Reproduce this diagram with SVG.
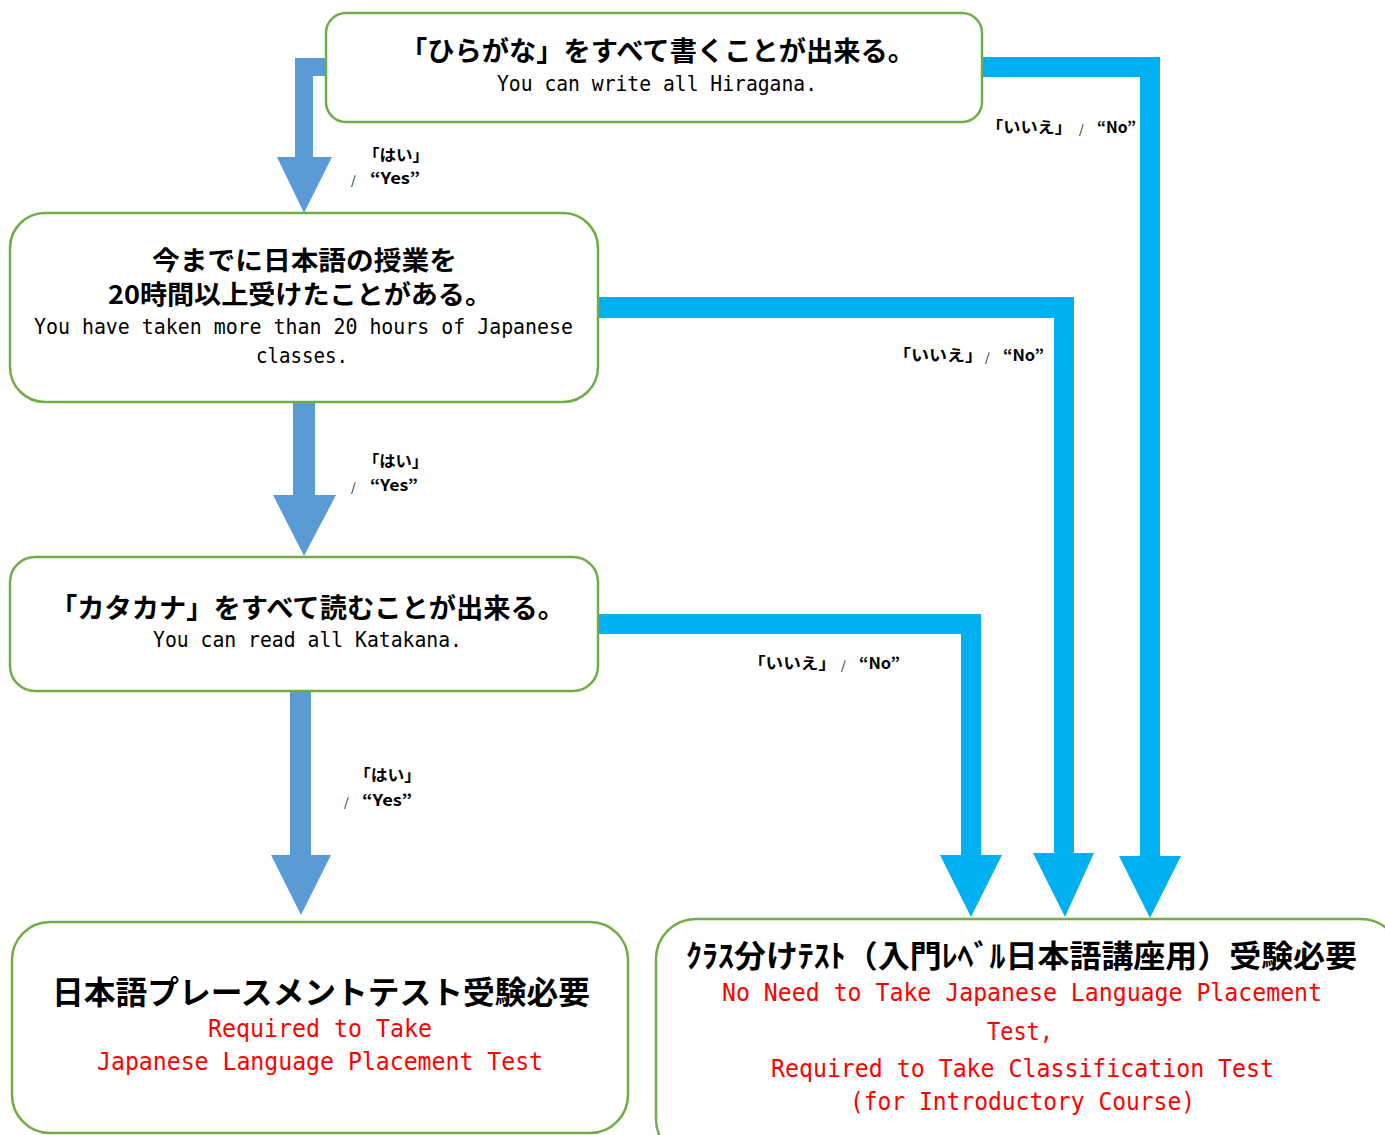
<svg xmlns="http://www.w3.org/2000/svg" width="1385" height="1135" viewBox="0 0 1385 1135">
<style>
.box{fill:#fff;stroke:#70AD47;stroke-width:2.5}
.yes{fill:#5B9BD5}
.no{fill:#00B0F0}
.jp{font-family:"Noto Sans CJK JP","Noto Sans",sans-serif;font-weight:bold;fill:#000}
.en{font-family:"DejaVu Sans Mono","Liberation Mono",monospace;fill:#000}
.red{font-family:"DejaVu Sans Mono","Liberation Mono",monospace;fill:#FF0000}
.lbl{font-family:"Noto Sans CJK JP","Noto Sans",sans-serif;font-weight:bold;font-size:16px;fill:#000}
.sl{font-family:"Noto Sans CJK JP","Noto Sans",sans-serif;font-size:12px;fill:#000}
</style>
<rect width="1385" height="1135" fill="#fff"/>
<g id="connectors">
  <polygon class="yes" points="326,58 295,58 295,157 277,157 304,213 332,157 313,157 313,76 326,76"/>
  <polygon class="yes" points="293,402 293,495 273,495 304,556 336,495 315,495 315,402"/>
  <polygon class="yes" points="290,691 290,855 271,855 301,915 331,855 311,855 311,691"/>
  <polygon class="no" points="982,57 1160,57 1160,856 1181,856 1150,918 1119,856 1140,856 1140,77 982,77"/>
  <polygon class="no" points="598,297 1074,297 1074,853 1094,853 1065,917 1033,853 1054,853 1054,318 598,318"/>
  <polygon class="no" points="598,614 981,614 981,855 1002,855 971,917 940,855 961,855 961,634 598,634"/>
  <g id="label-yes1">
    <text class="lbl" x="363" y="161" textLength="66" lengthAdjust="spacingAndGlyphs">「はい」</text>
    <text class="sl" x="351" y="185">/</text>
    <text class="lbl" x="370" y="184" textLength="50" lengthAdjust="spacingAndGlyphs">“Yes”</text>
  </g>
  <g id="label-yes2">
    <text class="lbl" x="363" y="467" textLength="65" lengthAdjust="spacingAndGlyphs">「はい」</text>
    <text class="sl" x="351" y="492">/</text>
    <text class="lbl" x="370" y="491" textLength="48" lengthAdjust="spacingAndGlyphs">“Yes”</text>
  </g>
  <g id="label-yes3">
    <text class="lbl" x="354" y="781" textLength="67" lengthAdjust="spacingAndGlyphs">「はい」</text>
    <text class="sl" x="344" y="807">/</text>
    <text class="lbl" x="362" y="806" textLength="50" lengthAdjust="spacingAndGlyphs">“Yes”</text>
  </g>
  <g id="label-no1">
    <text class="lbl" x="986" y="133" textLength="86" lengthAdjust="spacingAndGlyphs">「いいえ」</text>
    <text class="sl" x="1079" y="134">/</text>
    <text class="lbl" x="1097" y="133" textLength="39" lengthAdjust="spacingAndGlyphs">“No”</text>
  </g>
  <g id="label-no2">
    <text class="lbl" x="893" y="361" textLength="90" lengthAdjust="spacingAndGlyphs">「いいえ」</text>
    <text class="sl" x="985" y="362">/</text>
    <text class="lbl" x="1003" y="361" textLength="41" lengthAdjust="spacingAndGlyphs">“No”</text>
  </g>
  <g id="label-no3">
    <text class="lbl" x="748" y="669" textLength="88" lengthAdjust="spacingAndGlyphs">「いいえ」</text>
    <text class="sl" x="841" y="670">/</text>
    <text class="lbl" x="859" y="669" textLength="41" lengthAdjust="spacingAndGlyphs">“No”</text>
  </g>
</g>
<g id="node-hiragana">
  <rect class="box" x="326" y="13" width="656" height="109" rx="20"/>
  <text class="jp" x="657.5" y="61" font-size="27" text-anchor="middle" textLength="515" lengthAdjust="spacingAndGlyphs">「ひらがな」をすべて書くことが出来る。</text>
  <text class="en" x="657" y="91" font-size="22" text-anchor="middle" textLength="320" lengthAdjust="spacingAndGlyphs">You can write all Hiragana.</text>
</g>
<g id="node-20hours">
  <rect class="box" x="10" y="213" width="588" height="189" rx="35"/>
  <text class="jp" x="304.5" y="270" font-size="26" text-anchor="middle" textLength="305" lengthAdjust="spacingAndGlyphs">今までに日本語の授業を</text>
  <text class="jp" x="300" y="304" font-size="26" text-anchor="middle" textLength="384" lengthAdjust="spacingAndGlyphs">20時間以上受けたことがある。</text>
  <text class="en" x="303.5" y="334" font-size="22" text-anchor="middle" textLength="539" lengthAdjust="spacingAndGlyphs">You have taken more than 20 hours of Japanese</text>
  <text class="en" x="302" y="363" font-size="22" text-anchor="middle" textLength="92" lengthAdjust="spacingAndGlyphs">classes.</text>
</g>
<g id="node-katakana">
  <rect class="box" x="10" y="557" width="588" height="134" rx="25"/>
  <text class="jp" x="307.5" y="618" font-size="27" text-anchor="middle" textLength="515" lengthAdjust="spacingAndGlyphs">「カタカナ」をすべて読むことが出来る。</text>
  <text class="en" x="307.5" y="647" font-size="22" text-anchor="middle" textLength="309" lengthAdjust="spacingAndGlyphs">You can read all Katakana.</text>
</g>
<g id="node-placement">
  <rect class="box" x="12" y="922" width="616" height="211" rx="38"/>
  <text class="jp" x="321" y="1004" font-size="31.5" text-anchor="middle" textLength="538" lengthAdjust="spacingAndGlyphs">日本語プレースメントテスト受験必要</text>
  <text class="red" x="320" y="1037" font-size="24" text-anchor="middle" textLength="224" lengthAdjust="spacingAndGlyphs">Required to Take</text>
  <text class="red" x="320" y="1070" font-size="24" text-anchor="middle" textLength="446" lengthAdjust="spacingAndGlyphs">Japanese Language Placement Test</text>
</g>
<g id="node-classification">
  <rect class="box" x="656" y="919" width="745" height="240" rx="40"/>
  <text class="jp" x="1021.5" y="967" font-size="31" text-anchor="middle" textLength="671" lengthAdjust="spacingAndGlyphs">ｸﾗｽ分けﾃｽﾄ（入門ﾚﾍﾞﾙ日本語講座用）受験必要</text>
  <text class="red" x="1022" y="1001" font-size="24" text-anchor="middle" textLength="600" lengthAdjust="spacingAndGlyphs">No Need to Take Japanese Language Placement</text>
  <text class="red" x="1020" y="1040" font-size="24" text-anchor="middle" textLength="66" lengthAdjust="spacingAndGlyphs">Test,</text>
  <text class="red" x="1022.5" y="1077" font-size="24" text-anchor="middle" textLength="503" lengthAdjust="spacingAndGlyphs">Required to Take Classification Test</text>
  <text class="red" x="1022.5" y="1110" font-size="24" text-anchor="middle" textLength="345" lengthAdjust="spacingAndGlyphs">(for Introductory Course)</text>
</g>
</svg>
